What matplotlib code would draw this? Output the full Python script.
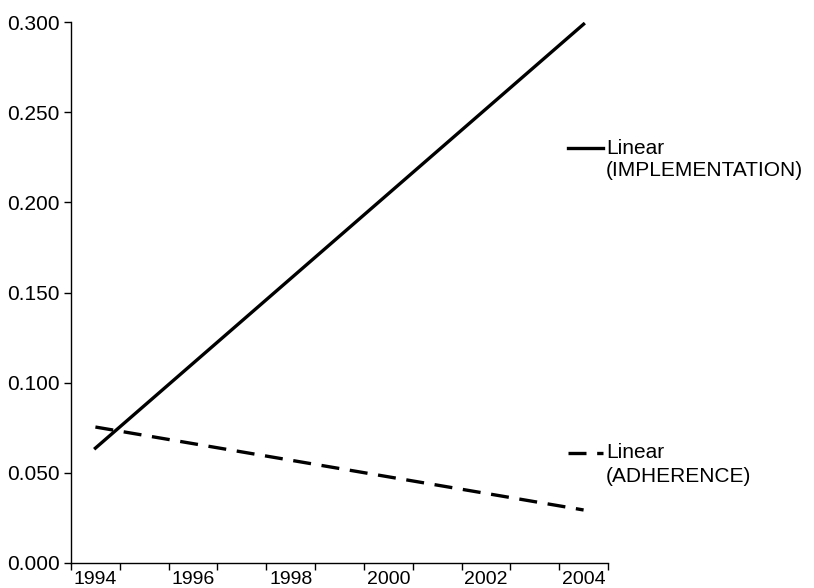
import numpy as np
import matplotlib
matplotlib.use("Agg")
import matplotlib.pyplot as plt
from matplotlib.lines import Line2D

plt.rcParams['font.family'] = ['Liberation Sans', 'DejaVu Sans']

# category axis, one slot per year
years = ['1994', '1995', '1996', '1997', '1998', '1999',
         '2000', '2001', '2002', '2003', '2004']
# trendline end points (first and last year)
impl_ends = [0.0637, 0.2988]
adh_ends = [0.0754, 0.0294]
y_ticks = [0.0, 0.05, 0.10, 0.15, 0.20, 0.25, 0.30]

lw = 2.4
solid_style = dict(color='black', lw=lw, linestyle='-')
dash_style = dict(color='black', lw=lw, linestyle=(0, (5.4, 3.2)))

fig = plt.figure(figsize=(8.14, 5.88), dpi=100)
ax = fig.add_axes([71/814, 1 - 563/588, (608 - 71)/814, (563 - 22)/588])

n = len(years)
xe = [0.5, n - 0.5]
ax.plot(xe, impl_ends, **solid_style)
ax.plot(xe, adh_ends, **dash_style)

ax.set_xlim(0, n)
ax.set_ylim(0, 0.3)
ax.set_yticks(y_ticks)
ax.set_yticklabels(['%.3f' % v for v in y_ticks], fontsize=15)
ax.set_xticks(np.arange(0, n + 1))
ax.set_xticklabels([])
ax.set_xticks(np.arange(n) + 0.5, minor=True)
ax.set_xticklabels([y if i % 2 == 0 else '' for i, y in enumerate(years)],
                   minor=True, fontsize=14)
ax.tick_params(axis='x', which='minor', length=0, pad=6)
ax.tick_params(axis='x', which='major', length=5, width=1, direction='out')
ax.tick_params(axis='y', length=5, width=1, direction='out', pad=3)
for s in ['top', 'right']:
    ax.spines[s].set_visible(False)
for s in ['left', 'bottom']:
    ax.spines[s].set_linewidth(1)

# legend drawn by hand so the handle sits on the first text line
def legend_entry(ypx, style, lines):
    y = 1 - ypx/588
    fig.add_artist(Line2D([568/814, 603/814], [y, y], transform=fig.transFigure, **style))
    for i, t in enumerate(lines):
        fig.text(606/814, 1 - (ypx + 23*i)/588, t, fontsize=15, va='center', ha='left')

legend_entry(148, solid_style, ['Linear', '(IMPLEMENTATION)'])
legend_entry(453, dash_style, ['Linear', '(ADHERENCE)'])

fig.savefig('out.png', dpi=100)
